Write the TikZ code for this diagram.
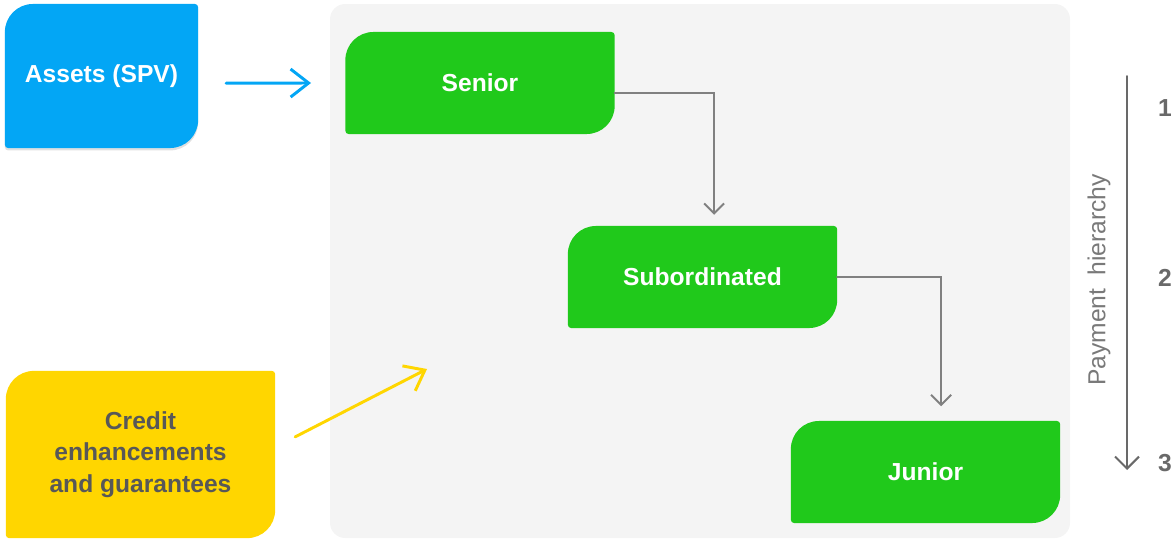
\documentclass[tikz,border=0pt]{standalone}
\usepackage{fontspec}
\setmainfont{Liberation Sans}
\usepackage{tikz}
\usetikzlibrary{arrows.meta, backgrounds, shadows}
\definecolor{spvblue}{HTML}{03A6F5}
\definecolor{tranchegreen}{HTML}{20C91B}
\definecolor{enhyellow}{HTML}{FFD600}
\definecolor{poolgrey}{HTML}{F4F4F4}
\definecolor{linegrey}{HTML}{808080}
\definecolor{textgrey}{HTML}{585858}

% leaf-shaped fill behind a node: big radius top left / bottom right
\newcommand{\leafpath}[2]{%
  \fill[#2] ([yshift=-0.7cm]#1.north west) arc[start angle=180, end angle=90, radius=0.7cm]
    -- ([xshift=-0.08cm]#1.north east) arc[start angle=90, end angle=0, radius=0.08cm]
    -- ([yshift=0.7cm]#1.south east) arc[start angle=0, end angle=-90, radius=0.7cm]
    -- ([xshift=0.08cm]#1.south west) arc[start angle=270, end angle=180, radius=0.08cm]
    -- cycle;}

\begin{document}
\begin{tikzpicture}[x=0.025cm, y=-0.025cm,
    leaf/.style={rectangle, inner sep=0pt, outer sep=0pt, align=center,
                 font=\bfseries\fontsize{17.5}{22.3}\selectfont},
    tranche/.style={leaf, minimum width=6.73cm, minimum height=2.55cm, text=white},
    flow/.style={-{Straight Barb[length=2.5mm, width=5mm]}, line width=1.4pt,
                 linegrey, line cap=round},
    feed/.style={-{Straight Barb[length=4.5mm, width=7mm]}, line width=2.1pt,
                 line cap=round},
    rank/.style={font=\bfseries\fontsize{17.5}{21}\selectfont, text=textgrey!90},
  ]
    \useasboundingbox (0,0) rectangle (1174,539);

    % === Inputs ===
    \node[leaf, minimum width=4.83cm, minimum height=3.6cm, text=white]
      (assets) at (101.5,76) {Assets (SPV)};
    \node[leaf, minimum width=6.73cm, minimum height=4.18cm, text=textgrey]
      (credit) at (140.5,454.5) {\raisebox{-0.1cm}{\parbox{6cm}{\centering
        Credit\\enhancements\\and guarantees}}};

    % === Tranches ===
    \node[tranche] (senior) at (480,83) {Senior};
    \node[tranche] (sub) at (702.5,277) {Subordinated};
    \node[tranche] (junior) at (925.5,472) {Junior};

    % === Backgrounds ===
    \begin{scope}[on background layer]
      \fill[poolgrey, rounded corners=0.38cm] (330,4) rectangle (1070,538);
      \leafpath{assets}{spvblue, drop shadow={shadow xshift=0cm, shadow yshift=-0.06cm,
                        opacity=0.12, fill=black}}
      \leafpath{credit}{enhyellow}
      \leafpath{senior}{tranchegreen}
      \leafpath{sub}{tranchegreen}
      \leafpath{junior}{tranchegreen}
    \end{scope}

    % === Arrows into the pool ===
    \coordinate (spvin) at (311,83);
    \coordinate (credin) at (427,369);
    \draw[feed, spvblue] ([xshift=0.7cm,yshift=-0.18cm]assets.east) -- (spvin);
    \draw[feed, enhyellow] ([xshift=0.5cm,yshift=0.44cm]credit.east) -- (credin);

    % === Waterfall ===
    \draw[flow] ([yshift=-0.24cm]senior.east) -| ([xshift=0.29cm,yshift=0.28cm]sub.north);
    \draw[flow] (sub.east) -| ([xshift=0.39cm,yshift=0.37cm]junior.north);

    % === Payment hierarchy scale ===
    \coordinate (ptop) at (1127,76);
    \coordinate (pbot) at (1127,470);
    \draw[flow, textgrey!90, -{Straight Barb[length=3mm, width=6mm]}] (ptop) -- (pbot);
    \node[rotate=90, text=textgrey!80, font=\fontsize{17.5}{21}\selectfont]
      (phier) at (1099,280) {Payment\hspace{0.25em} hierarchy};
    \node[rank] (r1) at (1165,108) {1};
    \node[rank] (r2) at (1165,278) {2};
    \node[rank] (r3) at (1165,463) {3};
\end{tikzpicture}
\end{document}
